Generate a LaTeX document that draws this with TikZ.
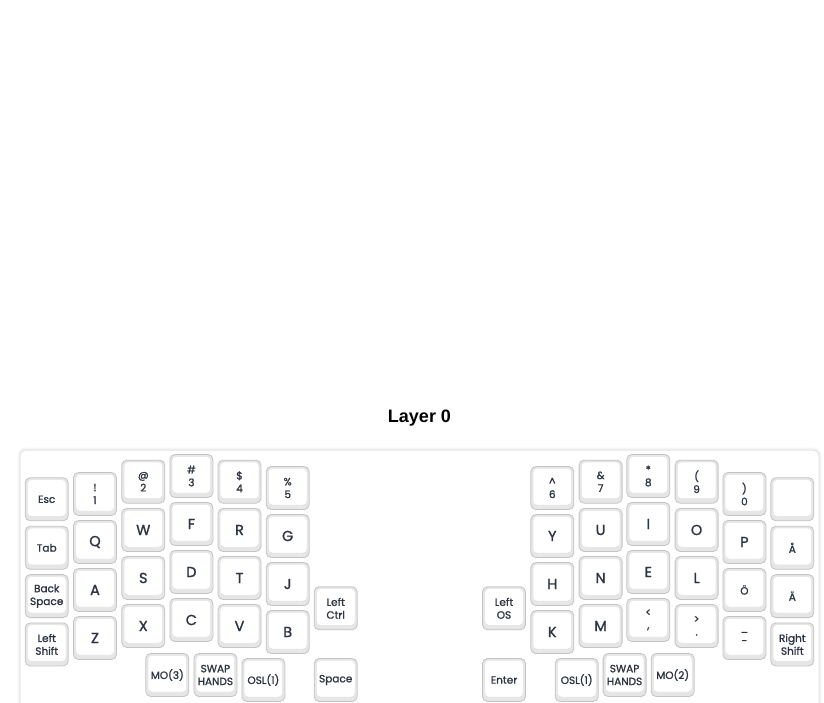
\documentclass[tikz,border=0pt]{standalone}
\usepackage{fontspec}
\setmainfont{Poppins}[FakeBold=1.3]
\newfontfamily\titlefont{Liberation Sans}
\definecolor{keyedge}{HTML}{C4C4C4}
\definecolor{keyside}{HTML}{E6E6E6}
\definecolor{keytext}{HTML}{2E3542}
\definecolor{frameedge}{HTML}{E2E2E2}
\begin{document}
\begin{tikzpicture}[
  x=1pt, y=-1pt,
  key/.style={draw=keyedge, fill=keyside, rounded corners=5pt, line width=0.8pt,
    minimum width=43pt, minimum height=43pt, inner sep=0pt, align=center,
    text=keytext, font=\fontsize{10.5}{12.8}\selectfont,
    path picture={\fill[white, draw=keyedge!45, line width=0.5pt, rounded corners=4pt]
      ([xshift=2.2pt, yshift=-1.8pt]path picture bounding box.north west) rectangle
      ([xshift=-2.2pt, yshift=4.5pt]path picture bounding box.south east);}},
  letter/.style={key, font=\fontsize{14.5}{16}\selectfont},
]
  \useasboundingbox (0,0) rectangle (824,703);

  % Title
  \node[font=\titlefont\bfseries\fontsize{18}{20}\selectfont] (title) at (419.5,418) {Layer 0};

  % Frame
  \draw[black!4, line width=3pt, rounded corners=7pt] (19,449) rectangle (820,740);
  \draw[frameedge, fill=white, line width=1pt, rounded corners=6pt] (20,450) rectangle (819,740);

  % Left half
  \node[key]    (esc)   at (46.7,499.3) {Esc};
  \node[key]    (tab)   at (46.7,547.8) {Tab};
  \node[key]    (bspc)  at (46.7,596.1) {Back\\Space};
  \node[key]    (lsft)  at (46.7,644.4) {Left\\Shift};

  \node[key]    (n1)    at (95,494)     {!\\1};
  \node[letter] (q)     at (95,542)     {Q};
  \node[letter] (a)     at (95,590)     {A};
  \node[letter] (z)     at (95,638)     {Z};

  \node[key]    (n2)    at (143.3,481.7) {@\\2};
  \node[letter] (w)     at (143.3,530)   {W};
  \node[letter] (s)     at (143.3,578)   {S};
  \node[letter] (x)     at (143.3,626)   {X};

  \node[key]    (n3)    at (191.4,476)  {\#\\3};
  \node[letter] (f)     at (191.4,524)  {F};
  \node[letter] (d)     at (191.4,572)  {D};
  \node[letter] (c)     at (191.4,620)  {C};

  \node[key]    (n4)    at (239.5,481.7) {\$\\4};
  \node[letter] (r)     at (239.5,530)   {R};
  \node[letter] (t)     at (239.5,578)   {T};
  \node[letter] (v)     at (239.5,626)   {V};

  \node[key]    (n5)    at (287.7,488)  {\%\\5};
  \node[letter] (g)     at (287.7,536)  {G};
  \node[letter] (j)     at (287.7,584)  {J};
  \node[letter] (b)     at (287.7,632)  {B};

  \node[key]    (lctl)  at (335.7,608.3) {Left\\Ctrl};

  % Left thumb keys
  \node[key]    (mo3)   at (167.3,675)  {MO(3)};
  \node[key]    (swpl)  at (215.4,675)  {SWAP\\HANDS};
  \node[key]    (osl1l) at (263.4,680)  {OSL(1)};
  \node[key]    (spc)   at (335.7,680)  {Space};

  % Right half
  \node[key]    (lgui)  at (504,608.3)  {Left\\OS};

  \node[key]    (n6)    at (552.3,488)  {\textasciicircum\\6};
  \node[letter] (y)     at (552.3,536)  {Y};
  \node[letter] (h)     at (552.3,584)  {H};
  \node[letter] (k)     at (552.3,632)  {K};

  \node[key]    (n7)    at (600.6,481.7) {\&\\7};
  \node[letter] (u)     at (600.6,530)   {U};
  \node[letter] (n)     at (600.6,578)   {N};
  \node[letter] (m)     at (600.6,626)   {M};

  \node[key]    (n8)    at (648.3,476)  {*\\8};
  \node[letter] (i)     at (648.3,524)  {I};
  \node[letter] (e)     at (648.3,572)  {E};
  \node[key]    (comm)  at (648.3,620)  {<\\,};

  \node[key]    (n9)    at (696.6,481.7) {(\\9};
  \node[letter] (o)     at (696.6,530)   {O};
  \node[letter] (l)     at (696.6,578)   {L};
  \node[key]    (dot)   at (696.6,626)   {>\\.};

  \node[key]    (n0)    at (744.4,494)  {)\\0};
  \node[letter] (p)     at (744.4,542)  {P};
  \node[key]    (oe)    at (744.4,590)  {Ö};
  \node[key]    (mins)  at (744.4,638)  {\_\\-};

  \node[key]    (blank) at (792.3,499.3) {};
  \node[key]    (ao)    at (792.3,547.8) {Å};
  \node[key]    (ae)    at (792.3,596.1) {Ä};
  \node[key]    (rsft)  at (792.3,644.4) {Right\\Shift};

  % Right thumb keys
  \node[key]    (ent)   at (504,680)    {Enter};
  \node[key]    (osl1r) at (576.7,680)  {OSL(1)};
  \node[key]    (swpr)  at (624.6,675)  {SWAP\\HANDS};
  \node[key]    (mo2)   at (672.7,675)  {MO(2)};

\end{tikzpicture}
\end{document}
